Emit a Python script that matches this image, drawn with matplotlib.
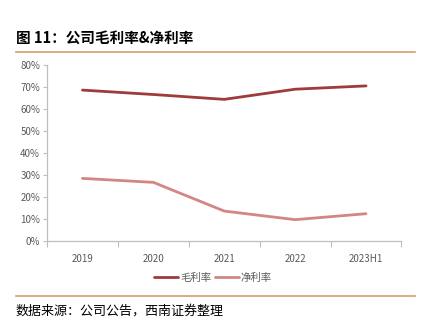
import matplotlib
matplotlib.use("Agg")
import matplotlib.pyplot as plt
import numpy as np

plt.rcParams['font.family'] = ['Noto Sans CJK SC', 'DejaVu Sans']

categories = ["2019", "2020", "2021", "2022", "2023H1"]
gross_margin = [68.5, 66.5, 64.3, 68.9, 70.4]
net_margin = [28.5, 26.7, 13.7, 9.8, 12.5]
yticks = [0, 10, 20, 30, 40, 50, 60, 70, 80]

W, H = 427, 329
fig = plt.figure(figsize=(W/100, H/100), dpi=100)

ax = fig.add_axes([47/W, 1-241.3/H, (401.5-47)/W, (241.3-64.7)/H])
x = np.arange(len(categories))
ax.plot(x, gross_margin, color='#9E3B3B', lw=2.0, label='毛利率', solid_capstyle='round')
ax.plot(x, net_margin, color='#D48585', lw=2.0, label='净利率', solid_capstyle='round')

ax.set_xlim(-0.5, len(categories)-0.5)
ax.set_ylim(0, 80)
ax.set_yticks(yticks)
ax.set_yticklabels([f"{v}%" for v in yticks])
ax.set_xticks(np.arange(-0.5, len(categories)), minor=False)
ax.set_xticklabels([])
ax.set_xticks(x, minor=True)
ax.set_xticklabels(categories, minor=True)
ax.tick_params(axis='x', which='major', length=4, color='#BFBFBF', direction='out')
ax.tick_params(axis='x', which='minor', length=0, pad=9, labelsize=7, labelcolor='#595959')
ax.tick_params(axis='y', length=3, color='#BFBFBF', labelsize=7, labelcolor='#595959', pad=2)
for s in ['top', 'right']:
    ax.spines[s].set_visible(False)
for s in ['left', 'bottom']:
    ax.spines[s].set_color('#BFBFBF')
    ax.spines[s].set_linewidth(0.9)

leg = fig.legend(loc='center', bbox_to_anchor=(213/W, 1-278/H), ncol=2, frameon=False,
                 fontsize=7.5, handlelength=2.3, columnspacing=0.3, handletextpad=0.2,
                 labelcolor='#595959')

fig.text(16/W, 1-38/H, "图 11：公司毛利率&净利率", fontsize=10.5, fontweight='bold',
         va='center', ha='left', color='#000000')
fig.add_artist(plt.Line2D([16/W, 415/W], [1-51.5/H, 1-51.5/H], color='#D4A062', lw=1.2))
fig.add_artist(plt.Line2D([16/W, 415/W], [1-295.7/H, 1-295.7/H], color='#D4A062', lw=1.2))
fig.text(16/W, 1-311/H, "数据来源：公司公告，西南证券整理", fontsize=9.4, style='italic',
         va='center', ha='left', color='#000000')

fig.savefig("out.png", dpi=100)
